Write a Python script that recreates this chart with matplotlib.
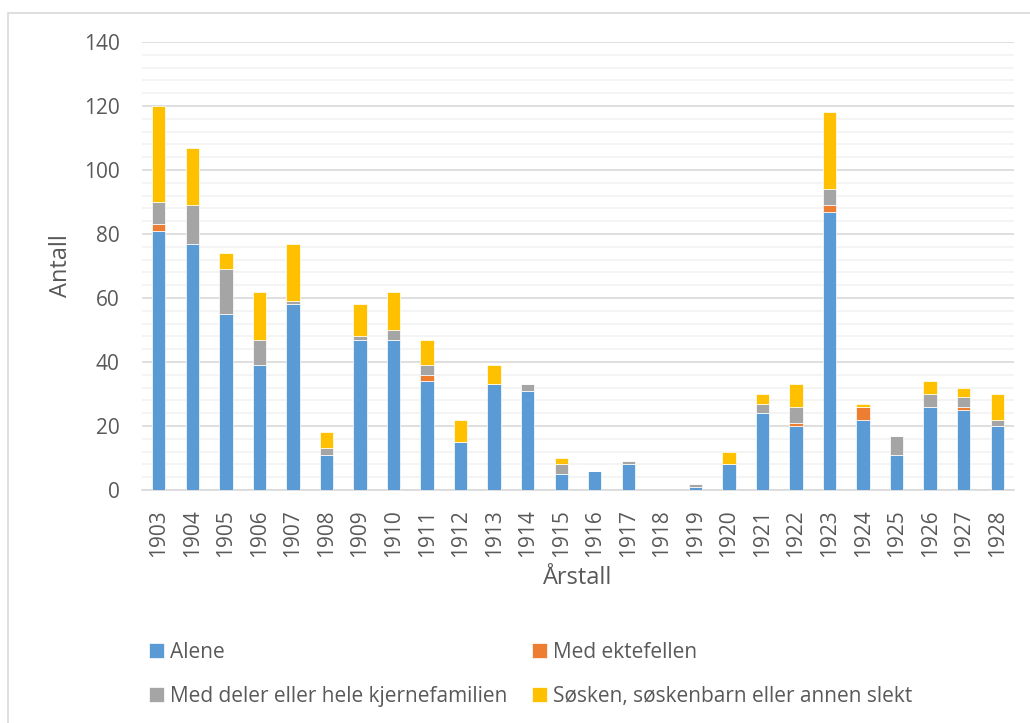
import matplotlib.pyplot as plt
import numpy as np
from matplotlib.patches import Rectangle

# data (persons per year)
years = [str(y) for y in range(1903, 1929)]
alene = [81, 77, 55, 39, 58, 11, 47, 47, 34, 15, 33, 31, 5, 6, 8, 0, 1, 8, 24, 20, 87, 22, 11, 26, 25, 20]
ektefellen = [2, 0, 0, 0, 0, 0, 0, 0, 2, 0, 0, 0, 0, 0, 0, 0, 0, 0, 0, 1, 2, 4, 0, 0, 1, 0]
kjernefamilie = [7, 12, 14, 8, 1, 2, 1, 3, 3, 0, 0, 2, 3, 0, 1, 0, 1, 0, 3, 5, 5, 0, 6, 4, 3, 2]
slekt = [30, 18, 5, 15, 18, 5, 10, 12, 8, 7, 6, 0, 2, 0, 0, 0, 0, 4, 3, 7, 24, 1, 0, 4, 3, 8]

labels = ["Alene", "Med ektefellen", "Med deler eller hele kjernefamilien",
          "Søsken, søskenbarn eller annen slekt"]
colors = ["#5B9BD5", "#ED7D31", "#A5A5A5", "#FFC000"]

plt.rcParams['font.family'] = ['Open Sans', 'DejaVu Sans']
txt = '#595959'

W, H = 1030, 723
fig = plt.figure(figsize=(W / 100, H / 100), dpi=100)
ax = fig.add_axes([142 / W, 1 - 490 / H, (1014 - 142) / W, (490 - 42) / H])

x = np.arange(len(years))
bottom = np.zeros(len(years))
bars = []
for vals, lab, col in zip([alene, ektefellen, kjernefamilie, slekt], labels, colors):
    b = ax.bar(x, vals, 0.4, bottom=bottom, color=col, label=lab,
               edgecolor='white', linewidth=0.5, zorder=3)
    bars.append(b)
    bottom += np.array(vals)

ax.set_xlim(-0.5, len(years) - 0.5)
ax.set_ylim(0, 140)
ax.set_yticks(range(0, 141, 20))
ax.set_yticks(range(0, 141, 4), minor=True)
ax.grid(axis='y', which='major', color='#d9d9d9', linewidth=1.2, zorder=0)
ax.grid(axis='y', which='minor', color='#f2f2f2', linewidth=1.2, zorder=0)
ax.set_xticks(x)
ax.set_xticklabels(years, rotation=90)
ax.tick_params(axis='both', which='both', length=0, labelsize=15, labelcolor=txt)
ax.tick_params(axis='y', pad=16)
ax.tick_params(axis='x', pad=14)
for s in ['top', 'right', 'left']:
    ax.spines[s].set_visible(False)
ax.spines['bottom'].set_color('#d9d9d9')
ax.spines['bottom'].set_linewidth(1.2)

ax.set_ylabel("Antall", fontsize=17, color=txt, labelpad=8)
ax.set_xlabel("Årstall", fontsize=17, color=txt, labelpad=6)

# legend, column-major order so the rows match the original
order = [0, 2, 1, 3]
fig.legend([bars[i] for i in order], [labels[i] for i in order], ncol=2,
           loc='upper left', bbox_to_anchor=(149 / W, 1 - 642 / H),
           frameon=False, fontsize=15, labelcolor=txt,
           handlelength=0.72, handleheight=0.72, handletextpad=0.3,
           columnspacing=1.15, labelspacing=1.1, borderpad=0, borderaxespad=0)

# chart area border
fig.patches.append(Rectangle((8 / W, -0.1), 1.2, 1.1 - 13 / H, transform=fig.transFigure,
                             fill=False, edgecolor='#d9d9d9', linewidth=1.2))

fig.savefig("out.png", dpi=100)
